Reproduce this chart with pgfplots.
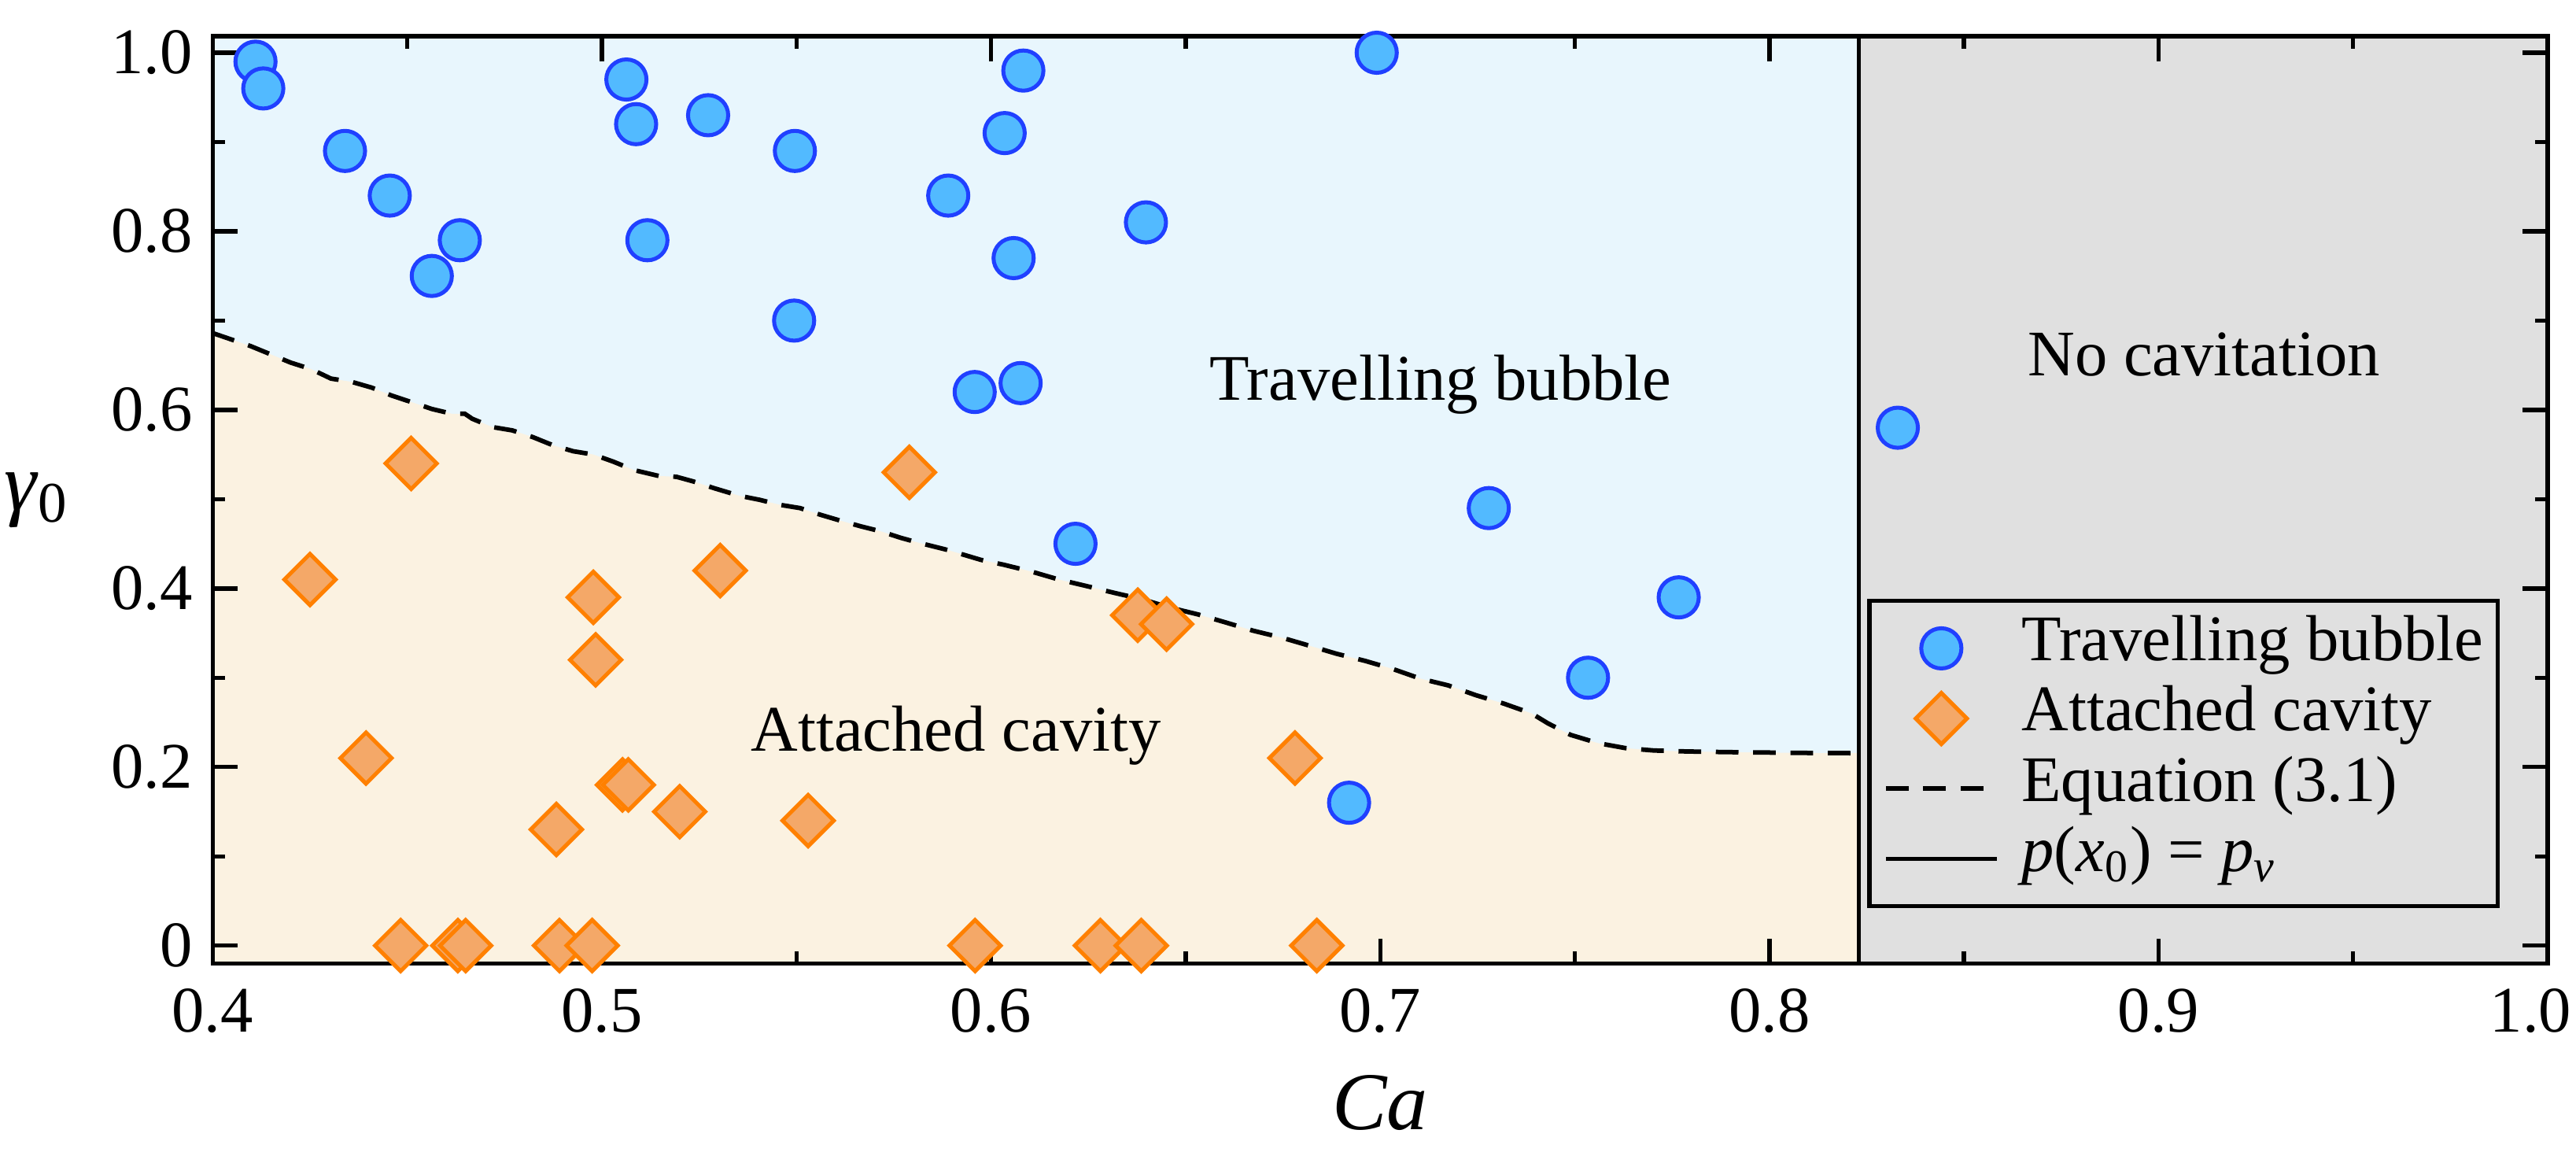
\documentclass[border=0pt]{standalone}
\usepackage{fontspec}
\setmainfont{Liberation Serif}
\usepackage{pgfplots}
\pgfplotsset{compat=1.18}
\usepackage{pgfplotstable}

\definecolor{bubfill}{HTML}{52BAFF}
\definecolor{bubedge}{HTML}{2040FF}
\definecolor{cavfill}{HTML}{F4A868}
\definecolor{cavedge}{HTML}{FF8000}
\definecolor{regblue}{HTML}{E8F6FD}
\definecolor{regbeige}{HTML}{FBF2E1}
\definecolor{reggrey}{HTML}{E0E0E0}

\newcommand{\txtfont}{\fontsize{11.5}{13.8}\selectfont}
\newcommand{\labfont}{\fontsize{14.5}{17}\selectfont}

% boundary curve, eq. (3.1), with the two bottom corners of the cavity region
\pgfplotstableread{
x y
0.400 -0.02
0.400 0.686
0.4097 0.6715
0.415 0.662
0.420 0.653
0.4253 0.6456
0.4304 0.635
0.4356 0.6315
0.4408 0.625
0.446 0.616
0.4512 0.6085
0.4563 0.601
0.4615 0.5956
0.4648 0.5956
0.4667 0.590
0.4719 0.5807
0.477 0.577
0.4822 0.5696
0.4874 0.5604
0.4926 0.5537
0.4978 0.550
0.503 0.5419
0.5082 0.5326
0.5146 0.526
0.5192 0.525
0.5237 0.5196
0.5289 0.5122
0.5354 0.5037
0.5405 0.4993
0.5457 0.4937
0.5509 0.490
0.5561 0.4826
0.5613 0.4759
0.5665 0.4696
0.5716 0.464
0.5768 0.4567
0.5807 0.452
0.5889 0.443
0.5974 0.432
0.6031 0.4267
0.6103 0.419
0.6174 0.410
0.6246 0.4026
0.6317 0.395
0.6389 0.3878
0.646 0.3785
0.6531 0.371
0.6603 0.3619
0.6674 0.3526
0.6746 0.345
0.6817 0.336
0.6889 0.3267
0.696 0.319
0.7031 0.310
0.7103 0.299
0.7174 0.2915
0.7246 0.2804
0.7317 0.2711
0.7389 0.260
0.7431 0.2489
0.7489 0.236
0.756 0.2267
0.7631 0.2211
0.7703 0.2185
0.7789 0.2174
0.7889 0.2167
0.8129 0.2156
0.823 0.2155
0.823 -0.02
}\curvetab

\begin{document}
\begin{tikzpicture}
\begin{axis}[
  name=ax,
  scale only axis,
  width=412.8pt, height=163.9pt,
  xmin=0.4, xmax=1.0,
  ymin=-0.02, ymax=1.0185,
  axis on top,
  axis line style={black, line width=0.75pt},
  every tick/.style={black, line width=0.75pt},
  tick align=inside,
  major tick length=4.4pt,
  minor tick length=2.2pt,
  xtick pos=both, ytick pos=both,
  xticklabel pos=lower, yticklabel pos=left,
  xtick={0.4,0.5,0.6,0.7,0.8,0.9,1.0},
  xticklabels={0.4,0.5,0.6,0.7,0.8,0.9,\hspace*{-6pt}1.0},
  ytick={0,0.2,0.4,0.6,0.8,1.0},
  yticklabels={0,0.2,0.4,0.6,0.8,1.0},
  minor x tick num=1,
  minor y tick num=1,
  tick label style={font=\txtfont},
  xticklabel style={yshift=-0.9pt},
  xlabel={\textit{Ca}},
  ylabel={\textit{γ}\textsubscript{0}},
  xlabel style={font=\labfont, at={(axis description cs:0.5,-0.1507)}, anchor=center},
  ylabel style={font=\labfont, rotate=-90, at={(axis description cs:-0.0753,0.5)}, anchor=center},
  legend image code/.code={\draw[mark repeat=2,mark phase=2,#1] plot coordinates {(0pt,0pt) (9.8pt,0pt) (19.6pt,0pt)};},
  legend cell align=left,
  legend style={
    at={(axis description cs:0.9795,0.0593)}, anchor=south east,
    draw=black, line width=0.75pt, fill=reggrey,
    inner xsep=2.5pt, inner ysep=2.2pt,
    row sep=0pt, column sep=4pt,
    font=\txtfont,
    nodes={inner sep=0pt, text height=8.4pt, text depth=4pt},
  },
]

% regions
\addplot[fill=regblue, draw=none, forget plot] coordinates {(0.4,-0.02) (0.823,-0.02) (0.823,1.0185) (0.4,1.0185)} -- cycle;
\addplot[fill=reggrey, draw=none, forget plot] coordinates {(0.823,-0.02) (1.0,-0.02) (1.0,1.0185) (0.823,1.0185)} -- cycle;
\addplot[fill=regbeige, draw=none, forget plot] table {\curvetab} -- cycle;

% Equation (3.1) and p(x_0) = p_v
\addplot[black, line width=0.8pt, dash pattern=on 4pt off 2.6pt, forget plot, restrict y to domain=0:2] table {\curvetab};
\addplot[black, line width=0.75pt, forget plot] coordinates {(0.823,-0.02) (0.823,1.0185)};

% travelling bubble
\addplot[only marks, mark=*, mark size=3.55pt,
  mark options={fill=bubfill, draw=bubedge, line width=0.7pt}] coordinates {
  (0.411,0.99) (0.413,0.96) (0.434,0.89) (0.4455,0.84) (0.4635,0.79)
  (0.4563,0.75) (0.5063,0.97) (0.5088,0.92) (0.5273,0.93) (0.5117,0.79)
  (0.5496,0.89) (0.5494,0.70) (0.589,0.84) (0.5958,0.62) (0.6035,0.91)
  (0.6083,0.98) (0.6058,0.77) (0.6076,0.63) (0.6398,0.81) (0.6991,1.00)
  (0.6217,0.45) (0.7279,0.49) (0.7767,0.39) (0.7534,0.30) (0.692,0.16)
  (0.833,0.58)
};
\addlegendentry{Travelling bubble}

% attached cavity
\addplot[only marks, mark=square*, mark size=3.2pt,
  mark options={rotate=45, fill=cavfill, draw=cavedge, line width=0.7pt}] coordinates {
  (0.451,0.54) (0.579,0.53) (0.425,0.41) (0.4978,0.39) (0.5304,0.42)
  (0.4984,0.32) (0.4394,0.21) (0.5053,0.18) (0.5068,0.18) (0.520,0.15)
  (0.4883,0.13) (0.553,0.14) (0.6377,0.37) (0.6451,0.36) (0.6781,0.21)
  (0.4483,0) (0.4630,0) (0.4650,0) (0.4891,0) (0.4975,0)
  (0.5959,0) (0.6281,0) (0.6386,0) (0.6837,0)
};
\addlegendentry{Attached cavity}

\addlegendimage{black, line width=0.8pt, dash pattern=on 4pt off 2.6pt}
\addlegendentry{Equation (3.1)}
\addlegendimage{black, line width=0.75pt}
\addlegendentry{\textit{p}(\textit{x}\textsubscript{0}) = \textit{p}\textsubscript{\textit{v}}}

\node[anchor=base, font=\txtfont] at (axis cs:0.7155,0.611) {Travelling bubble};
\node[anchor=base, font=\txtfont] at (axis cs:0.591,0.2174) {Attached cavity};
\node[anchor=base, font=\txtfont] at (axis cs:0.9117,0.6386) {No cavitation};

\end{axis}
\pgfresetboundingbox
\path[use as bounding box] ([xshift=-37.6pt,yshift=-33.3pt]ax.south west) rectangle ([xshift=5pt,yshift=6.4pt]ax.north east);
\end{tikzpicture}
\end{document}
